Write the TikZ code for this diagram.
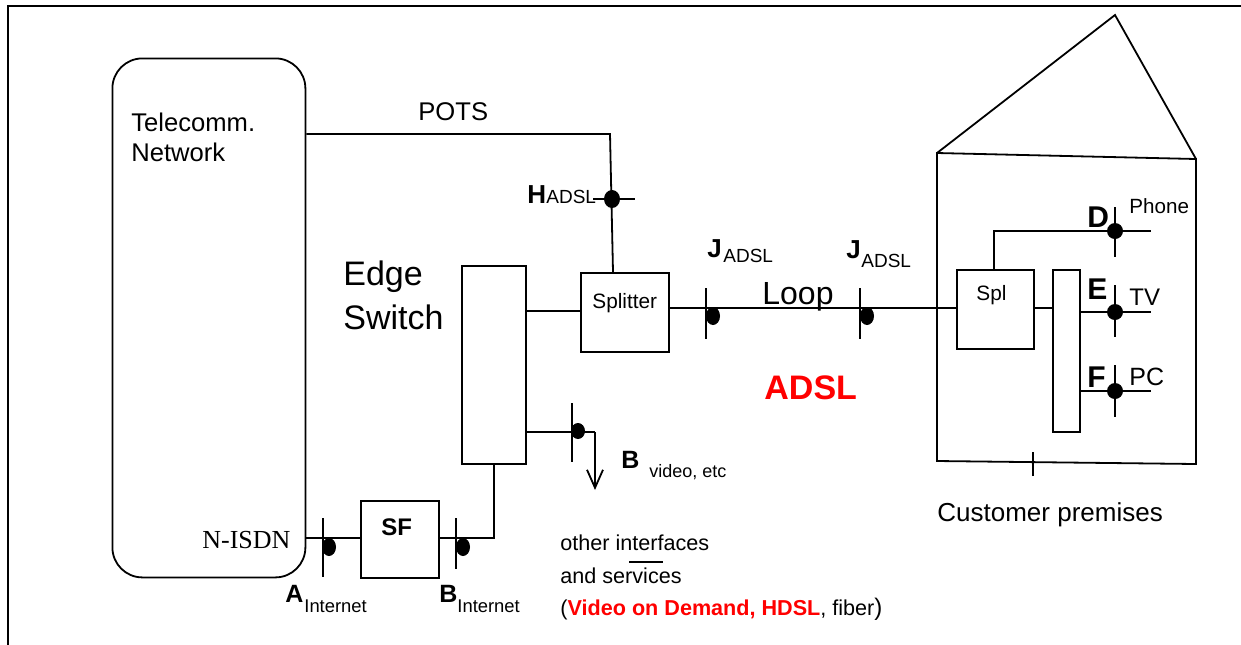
\documentclass[tikz,border=0pt]{standalone}
\usepackage{fontspec}
\setmainfont{Liberation Sans}
\newfontfamily\timesfont{Liberation Serif}
\usetikzlibrary{arrows.meta}
\definecolor{adslred}{RGB}{255,0,0}
\tikzset{
  ln/.style={line width=0.9pt},
  box/.style={draw, line width=0.9pt, inner sep=0pt},
  txt/.style={inner sep=0pt, anchor=base west},
}
\newcommand{\fs}[1]{\fontsize{#1}{#1}\selectfont}
\begin{document}
\begin{tikzpicture}[x=0.5pt,y=-0.5pt]
\useasboundingbox (0,0) rectangle (1241,644);
% outer frame (top and left visible)
\draw[line width=1pt] (8,650) -- (8,6) -- (1250,6);

% Telecomm network
\node[box, rounded corners=15pt, minimum width=96.5pt, minimum height=259.5pt, anchor=north west] (net) at (111.5,57.5) {};
\node[txt] (netl1) at (131,131) {\fs{12.8}Telecomm.};
\node[txt] (netl2) at (131,161) {\fs{12.8}Network};
\node[txt] (nisdn) at (202,548) {\timesfont\fs{13}N-ISDN};

% POTS
\node[txt] (pots) at (418,120) {\fs{12.8}POTS};

% Edge switch
\node[box, minimum width=32pt, minimum height=99pt, anchor=north west] (sw) at (461,265) {};
\node[txt] (edge) at (343,285) {\fs{17}Edge};
\node[txt] (switch) at (343,329) {\fs{17}Switch};

% Splitter
\node[box, minimum width=44pt, minimum height=39.5pt, anchor=north west] (splitter) at (580,272) {};
\node[txt] (splt) at (592,308) {\fs{10.4}Splitter};

% SF
\node[box, minimum width=39pt, minimum height=38.5pt, anchor=north west] (sf) at (360,500) {};
\node[txt] (sft) at (381,535) {\fs{12}\bfseries SF};

% House
\coordinate (hl) at (937,153);
\coordinate (hr) at (1196,159);
\coordinate (ha) at (1115,15);
\coordinate (hbl) at (937,461);
\coordinate (hbr) at (1196,464);
\draw[ln] (hl) -- (ha) -- (hr);
\draw[ln] (hbl) -- (hl) -- (hr) -- (hbr) -- cycle;
\coordinate (htk) at (1033,462);
\draw[ln] ([yshift=-7pt]htk) -- ([yshift=5pt]htk);
\node[txt] (cust) at (937,521) {\fs{13}Customer premises};

% Spl and bus
\node[box, minimum width=38.5pt, minimum height=39.5pt, anchor=north west] (spl) at (956,269) {};
\node[txt] (splx) at (976,300) {\fs{10.4}Spl};
\node[box, minimum width=13.5pt, minimum height=81pt, anchor=north west] (bus) at (1052,269) {};

% POTS line
\coordinate (potsc) at (610,134);
\draw[ln] (net.east |- potsc) -- (potsc) -- (613,272);
% H interface
\coordinate (hdot) at (612,199);
\draw[ln] (593,199) -- (635,199);
\fill (hdot) ellipse [x radius=8, y radius=9];
\node[txt] (hlab) at (527,203) {\fs{13}\bfseries H};
\node[txt] (hsub) at (546,203) {\fs{9.5}ADSL};

% edge switch to splitter
\draw[ln] (sw.east |- 0,311) -- (splitter.west |- 0,311);
% loop line
\draw[ln] (splitter.east |- 0,308) -- (spl.west |- 0,308);
% J interfaces
\draw[ln] (706,288) -- (706,339);
\fill (713,316) ellipse [x radius=7, y radius=9];
\draw[ln] (860,288) -- (860,339);
\fill (867,316) ellipse [x radius=7, y radius=9];
\node[txt] (j1) at (707,257) {\fs{13}\bfseries J};
\node[txt] (j1s) at (723,262) {\fs{9.5}ADSL};
\node[txt] (j2) at (846,258) {\fs{13}\bfseries J};
\node[txt] (j2s) at (861,267) {\fs{9.5}ADSL};
\node[txt] (loop) at (762,304) {\fs{16}Loop};
\node[txt] (adsl) at (764,399) {\fs{17}\bfseries\color{adslred}ADSL};

% B video
\coordinate (bv) at (595,432);
\coordinate (bvend) at (595,490);
\draw[ln] (sw.east |- bv) -- (bv);
\draw[ln, -{Straight Barb[length=9pt,width=8pt]}] (bv) -- (bvend);
\draw[ln] (572,403) -- (572,462);
\fill (578,431) ellipse [x radius=7, y radius=8];
\node[txt] (bvl) at (621,468) {\fs{12.5}\bfseries B};
\node[txt] (bvs) at (649,477) {\fs{9}video, etc};

% switch to SF
\coordinate (swb) at (494,538);
\draw[ln] (sw.south -| swb) -- (swb) -- (sf.east |- swb);
% N-ISDN to SF
\draw[ln] (net.east |- swb) -- (sf.west |- swb);
\draw[ln] (323,518) -- (323,577);
\fill (329,547) ellipse [x radius=7, y radius=9];
\draw[ln] (456,518) -- (456,569);
\fill (463,547) ellipse [x radius=7, y radius=9];
\node[txt] (al) at (285,602) {\fs{12.5}\bfseries A};
\node[txt] (als) at (304,612) {\fs{9.2}Internet};
\node[txt] (bl) at (439,602) {\fs{12.5}\bfseries B};
\node[txt] (bls) at (457,612) {\fs{9.2}Internet};

% other interfaces text
\node[txt] (oi1) at (560,550) {\fs{10.8}other interfaces};
\node[txt] (oi2) at (560,583) {\fs{10.8}and services};
\draw[ln] (629,562) -- (663,562);
\node[txt] (oi3) at (560,615) {\fs{10.8}(\textcolor{adslred}{\bfseries Video on Demand, HDSL}, fiber\fs{12})};

% customer side
\draw[ln] (spl.east |- 0,308) -- (bus.west |- 0,308);
\coordinate (dpt) at (1115,231);
\coordinate (ept) at (1115,312);
\coordinate (fpt) at (1115,391);
\draw[ln] (spl.north -| 994,0) -- (994,231) -- (1151,231);
\draw[ln] (bus.east |- ept) -- (1151,312);
\draw[ln] (bus.east |- fpt) -- (1151,391);
\foreach \p/\a/\b in {dpt/207/257, ept/285/337, fpt/365/417}{
  \draw[ln] (1115,\a) -- (1115,\b);
  \fill (\p) circle [radius=8];
}
\node[txt] (dl) at (1087,227) {\fs{15}\bfseries D};
\node[txt] (phone) at (1129,213) {\fs{10.3}Phone};
\node[txt] (el) at (1087,299) {\fs{15}\bfseries E};
\node[txt] (tv) at (1129,305) {\fs{12}TV};
\node[txt] (fl) at (1087,387) {\fs{15}\bfseries F};
\node[txt] (pc) at (1129,385) {\fs{12.5}PC};
\end{tikzpicture}
\end{document}
